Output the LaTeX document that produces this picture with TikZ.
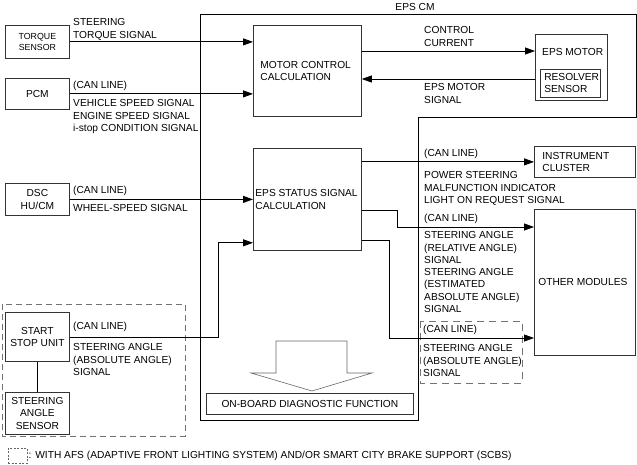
\documentclass[tikz,border=0pt]{standalone}
\usepackage{fontspec}
\setmainfont{Liberation Sans}
\usetikzlibrary{arrows.meta,positioning,calc}

\newcommand\epsfont{\fontsize{10.2}{12.3}\selectfont}

\tikzset{
  blk/.style={draw=black!80, line width=0.8pt, inner sep=0pt, anchor=north west, align=center},
  sig/.style={line width=0.8pt, -{Triangle[length=10pt,width=7pt]}},
  wire/.style={line width=0.8pt},
  lbl/.style={inner sep=0pt, anchor=base west, align=left},
  mlbl/.style={inner sep=0pt, anchor=north west, align=left},
  opt/.style={draw=black!55, line width=0.9pt, dash pattern=on 6pt off 4pt},
}

\begin{document}
\begin{tikzpicture}[x=1pt, y=-1pt, font=\epsfont]
        \useasboundingbox (0,0) rectangle (637,465);

        % outside units
        \node[blk, minimum width=64pt, minimum height=33pt, font=\fontsize{8.8}{11.2}\selectfont] (torque) at (5,25) {TORQUE\\SENSOR};
        \node[blk, minimum width=64pt, minimum height=31pt] (pcm) at (5,78) {PCM};
        \node[blk, minimum width=64pt, minimum height=32pt] (dsc) at (5,183) {DSC\\HU/CM};
        \node[blk, minimum width=64pt, minimum height=49pt] (ssu) at (5,312) {START\\STOP UNIT};
        \node[blk, minimum width=64pt, minimum height=42pt] (sas) at (5,392) {STEERING\\ANGLE\\SENSOR};

        % EPS CM
        \draw[line width=1pt] (200,15) -- (636,15) -- (636,118) -- (418,118) -- (418,420) -- (200,420) -- cycle;
        \node[inner sep=0pt, anchor=base] (epscm) at (415,10.6) {EPS CM};
        \node[blk, minimum width=108pt, minimum height=91pt, text width=94pt, align=flush left] (mcc) at (253,25) {MOTOR CONTROL\\CALCULATION};
        \node[blk, minimum width=108pt, minimum height=102pt, text width=104pt, align=flush left] (status) at (253,148) {EPS STATUS SIGNAL\\CALCULATION};
        \node[blk, minimum width=207pt, minimum height=21pt] (obd) at (206,393) {ON-BOARD DIAGNOSTIC FUNCTION};
        \draw[black!60, line width=0.6pt] (276,341) -- (347,341) -- (347,373) -- (372,373) -- (312,391) -- (251,373) -- (276,373) -- cycle;

        % receiving units
        \node[blk, minimum width=72pt, minimum height=66pt] (motor) at (535,34) {};
        \node[lbl] (motortxt) at (542,55.6) {EPS MOTOR};
        \node[blk, minimum width=60pt, minimum height=28pt, text width=52pt, align=flush left, line width=0.6pt] (resolver) at (540,69) {RESOLVER\\SENSOR};
        \node[blk, minimum width=101pt, minimum height=31pt, text width=85pt, align=flush left] (ic) at (534,146) {INSTRUMENT\\CLUSTER};
        \node[blk, minimum width=101pt, minimum height=146pt, text width=93pt, align=flush left] (om) at (534,209) {OTHER MODULES};

        % optional parts
        \draw[opt] (2,304) rectangle (185,436);
        \draw[opt, line width=0.8pt, dash pattern=on 7pt off 5pt] (420,321) rectangle (522,383);

        % signals
        \draw[sig] (torque.east) -- (torque.east -| mcc.west);
        \draw[sig] (pcm.east) -- (pcm.east -| mcc.west);
        \draw[sig] (dsc.east) -- (dsc.east -| status.west);
        \draw[sig] (ssu.east) -| ($(status.south west)+(-35,-8)$) -- ($(status.south west)+(0,-8)$);
        \draw[wire] (ssu) -- (sas);
        \draw[sig] ($(mcc.north east)+(0,26)$) -- ($(motor.north west)+(0,17)$);
        \draw[sig] ($(motor.north west)+(0,45)$) -- ($(mcc.north east)+(0,54)$);
        \draw[sig] (ic.west -| status.east) -- (ic.west);
        \draw[sig] ($(status.north east)+(0,62)$) -- ++(36,0) |- ($(om.north west)+(0,18)$);
        \draw[sig] ($(status.north east)+(0,92)$) -- ++(28,0) |- ($(om.north west)+(0,129)$);

        % signal texts
        \node[mlbl] (tqlbl) at (73,18.4) {STEERING\\TORQUE SIGNAL};
        \node[lbl] (pcmcan) at (73,88.6) {(CAN LINE)};
        \node[mlbl] (pcmlbl) at (73,99.4) {VEHICLE SPEED SIGNAL\\ENGINE SPEED SIGNAL\\i-stop CONDITION SIGNAL};
        \node[lbl] (dsccan) at (73,193.6) {(CAN LINE)};
        \node[lbl] (dsclbl) at (73,211.6) {WHEEL-SPEED SIGNAL};
        \node[lbl] (sscan) at (73,329.3) {(CAN LINE)};
        \node[mlbl] (sslbl) at (73,343.4) {STEERING ANGLE\\(ABSOLUTE ANGLE)\\SIGNAL};
        \node[mlbl] (cclbl) at (424,26.4) {CONTROL\\CURRENT};
        \node[mlbl] (mslbl) at (424,83.4) {EPS MOTOR\\SIGNAL};
        \node[lbl] (iccan) at (424,156.6) {(CAN LINE)};
        \node[mlbl] (iclbl) at (424,171.4) {POWER STEERING\\MALFUNCTION INDICATOR\\LIGHT ON REQUEST SIGNAL};
        \node[lbl] (omcan) at (424,221.6) {(CAN LINE)};
        \node[mlbl] (omlbl) at (424,231.4) {STEERING ANGLE\\(RELATIVE ANGLE)\\SIGNAL\\STEERING ANGLE\\(ESTIMATED\\ABSOLUTE ANGLE)\\SIGNAL};
        \node[lbl] (abscan) at (423,332.6) {(CAN LINE)};
        \node[mlbl] (abslbl) at (423,344.4) {STEERING ANGLE\\(ABSOLUTE ANGLE)\\SIGNAL};

        % legend
        \node[draw=black!60, dash pattern=on 2pt off 1.5pt, line width=0.5pt, minimum width=19pt, minimum height=15pt, inner sep=0pt, anchor=north west] (legbox) at (8,448) {};
        \node[inner sep=0pt, right=1pt of legbox] (legtxt) {: WITH AFS (ADAPTIVE FRONT LIGHTING SYSTEM) AND/OR SMART CITY BRAKE SUPPORT (SCBS)};
\end{tikzpicture}
\end{document}
